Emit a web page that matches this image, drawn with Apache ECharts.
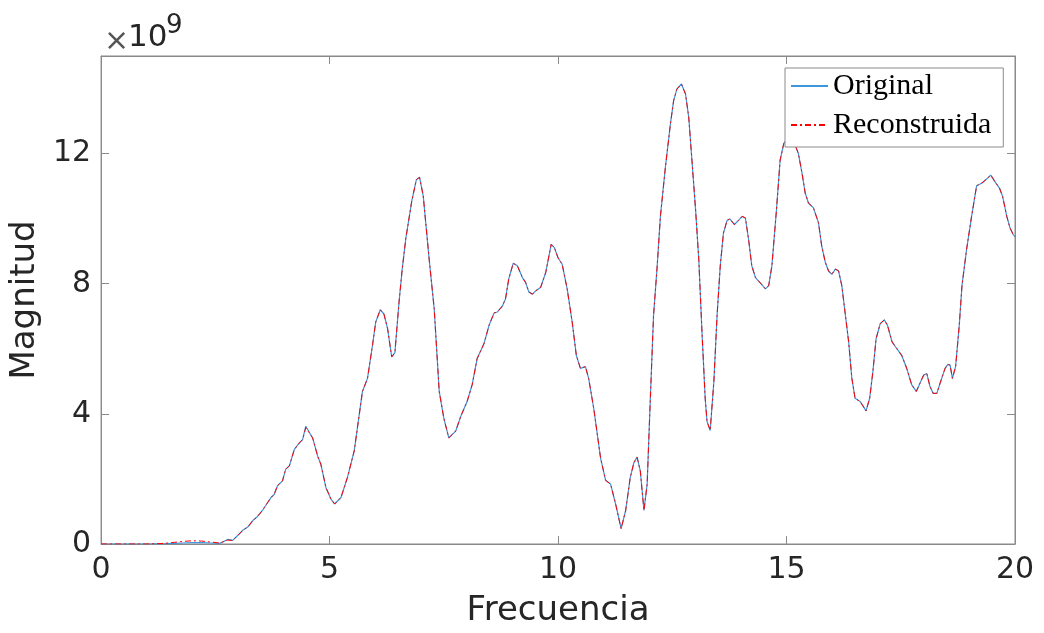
<!DOCTYPE html>
<html>
<head>
<meta charset="utf-8">
<script src="https://cdn.jsdelivr.net/npm/echarts@6/dist/echarts.min.js"></script>
<style>
html,body{margin:0;padding:0;background:#fff;}
#chart{width:1044px;height:633px;}
</style>
</head>
<body>
<div id="chart"></div>
<script>
// Frequency samples (x axis)
const freq = [
  0, 0.5, 1.0, 1.4, 1.6, 1.8, 2.0, 2.2, 2.4, 2.6,
  2.77, 2.88, 2.99, 3.10, 3.21, 3.32, 3.42, 3.53, 3.61, 3.72,
  3.79, 3.86, 3.97, 4.04, 4.12, 4.23, 4.34, 4.41, 4.48, 4.63,
  4.74, 4.81, 4.92, 5.03, 5.11, 5.25, 5.39, 5.54, 5.72, 5.83,
  5.94, 6.01, 6.11, 6.19, 6.27, 6.36, 6.43, 6.52, 6.59, 6.67,
  6.80, 6.90, 6.97, 7.05, 7.18, 7.29, 7.40, 7.50, 7.61, 7.76,
  7.87, 8.01, 8.12, 8.23, 8.38, 8.49, 8.60, 8.67, 8.78, 8.85,
  8.92, 9.02, 9.11, 9.22, 9.29, 9.36, 9.44, 9.51, 9.62, 9.73,
  9.85, 9.92, 10.00, 10.09, 10.20, 10.31, 10.40, 10.49, 10.60, 10.67,
  10.78, 10.93, 11.04, 11.15, 11.26, 11.38, 11.48, 11.58, 11.66, 11.73,
  11.80, 11.88, 11.95, 12.02, 12.09, 12.17, 12.24, 12.35, 12.46, 12.53,
  12.60, 12.70, 12.79, 12.86, 12.93, 13.01, 13.08, 13.15, 13.22, 13.26,
  13.33, 13.41, 13.48, 13.55, 13.62, 13.70, 13.76, 13.86, 13.95, 14.03,
  14.10, 14.17, 14.24, 14.32, 14.43, 14.54, 14.61, 14.68, 14.78, 14.86,
  14.94, 15.05, 15.15, 15.26, 15.34, 15.41, 15.48, 15.59, 15.70, 15.77,
  15.85, 15.92, 15.99, 16.07, 16.14, 16.21, 16.28, 16.36, 16.43, 16.50,
  16.61, 16.68, 16.74, 16.82, 16.89, 16.96, 17.05, 17.14, 17.21, 17.31,
  17.41, 17.52, 17.63, 17.74, 17.84, 17.92, 18.00, 18.07, 18.14, 18.21,
  18.29, 18.36, 18.47, 18.53, 18.58, 18.63, 18.70, 18.78, 18.84, 18.94,
  19.05, 19.16, 19.27, 19.38, 19.47, 19.56, 19.66, 19.73, 19.82, 19.89,
  19.96, 20.00
];
// Magnitude of the original signal (units of 1e9)
const original = [
  0, 0, 0, 0.01, 0.02, 0.03, 0.04, 0.04, 0.03, 0.02,
  0.14, 0.11, 0.26, 0.42, 0.52, 0.72, 0.84, 1.03, 1.20, 1.43,
  1.53, 1.79, 1.94, 2.30, 2.40, 2.91, 3.11, 3.21, 3.62, 3.26,
  2.70, 2.45, 1.74, 1.38, 1.23, 1.43, 2.04, 2.86, 4.69, 5.09,
  6.11, 6.82, 7.20, 7.07, 6.62, 5.75, 5.88, 7.43, 8.45, 9.40,
  10.55, 11.20, 11.27, 10.70, 8.75, 7.23, 4.69, 3.87, 3.26, 3.47,
  3.92, 4.38, 4.89, 5.70, 6.16, 6.72, 7.10, 7.13, 7.31, 7.53,
  8.14, 8.63, 8.55, 8.19, 8.04, 7.75, 7.68, 7.78, 7.89, 8.34,
  9.21, 9.11, 8.80, 8.60, 7.84, 6.82, 5.80, 5.40, 5.45, 5.09,
  4.18, 2.65, 1.96, 1.84, 1.23, 0.47, 1.03, 2.04, 2.50, 2.67,
  2.25, 1.03, 1.84, 4.48, 7.02, 8.55, 10.07, 11.59, 12.92, 13.63,
  13.98, 14.14, 13.83, 13.12, 11.80, 10.27, 8.75, 6.52, 4.48, 3.77,
  3.49, 4.99, 7.02, 8.55, 9.56, 9.95, 9.99, 9.82, 9.95, 10.07,
  10.02, 9.36, 8.55, 8.19, 8.02, 7.84, 7.94, 8.55, 10.27, 11.80,
  12.31, 12.55, 12.41, 12.00, 11.39, 10.78, 10.48, 10.33, 9.87, 9.16,
  8.65, 8.39, 8.29, 8.45, 8.39, 7.94, 7.13, 6.21, 5.09, 4.48,
  4.38, 4.23, 4.09, 4.48, 5.30, 6.31, 6.77, 6.89, 6.72, 6.21,
  6.01, 5.80, 5.40, 4.89, 4.69, 4.94, 5.19, 5.24, 4.84, 4.63,
  4.63, 4.94, 5.40, 5.52, 5.50, 5.09, 5.45, 6.72, 7.94, 9.05,
  10.07, 11.01, 11.09, 11.22, 11.34, 11.14, 10.94, 10.68, 10.07, 9.72,
  9.51, 9.45
];
// Magnitude of the reconstructed signal (units of 1e9)
const reconstruida = [
  0, 0, 0, 0.02, 0.05, 0.08, 0.10, 0.09, 0.06, 0.03,
  0.12, 0.11, 0.26, 0.42, 0.52, 0.72, 0.84, 1.03, 1.20, 1.43,
  1.53, 1.79, 1.94, 2.30, 2.40, 2.91, 3.11, 3.21, 3.58, 3.26,
  2.70, 2.45, 1.74, 1.38, 1.23, 1.43, 2.04, 2.86, 4.69, 5.09,
  6.11, 6.82, 7.20, 7.07, 6.62, 5.75, 5.88, 7.43, 8.45, 9.40,
  10.55, 11.20, 11.27, 10.70, 8.75, 7.23, 4.69, 3.87, 3.26, 3.47,
  3.92, 4.38, 4.89, 5.70, 6.16, 6.72, 7.10, 7.13, 7.31, 7.53,
  8.14, 8.63, 8.55, 8.19, 8.04, 7.75, 7.68, 7.78, 7.89, 8.34,
  9.21, 9.11, 8.80, 8.60, 7.84, 6.82, 5.80, 5.40, 5.45, 5.09,
  4.18, 2.65, 1.96, 1.84, 1.23, 0.47, 1.03, 2.04, 2.50, 2.67,
  2.25, 1.03, 1.84, 4.48, 7.02, 8.55, 10.07, 11.59, 12.92, 13.63,
  13.98, 14.14, 13.83, 13.12, 11.80, 10.27, 8.75, 6.52, 4.48, 3.77,
  3.49, 4.99, 7.02, 8.55, 9.56, 9.95, 9.99, 9.82, 9.95, 10.07,
  10.02, 9.36, 8.55, 8.19, 8.02, 7.84, 7.94, 8.55, 10.27, 11.80,
  12.31, 12.55, 12.41, 12.00, 11.39, 10.78, 10.48, 10.33, 9.87, 9.16,
  8.65, 8.39, 8.29, 8.45, 8.39, 7.94, 7.13, 6.21, 5.09, 4.48,
  4.38, 4.23, 4.09, 4.48, 5.30, 6.31, 6.77, 6.89, 6.72, 6.21,
  6.01, 5.80, 5.40, 4.89, 4.69, 4.94, 5.19, 5.24, 4.84, 4.63,
  4.63, 4.94, 5.40, 5.52, 5.50, 5.09, 5.45, 6.72, 7.94, 9.05,
  10.07, 11.01, 11.09, 11.22, 11.34, 11.14, 10.94, 10.68, 10.07, 9.72,
  9.51, 9.45
];
const seriesNames = ['Original', 'Reconstruida'];
const xTitle = 'Frecuencia';
const yTitle = 'Magnitud';
const xTicks = [0, 5, 10, 15, 20];
const yTicks = [0, 4, 8, 12];

const pairs = (ys) => freq.map((x, i) => [x, ys[i]]);
const axisColor = '#8a8a8a';
const textColor = '#262626';
const sans = 'DejaVu Sans';
const blue = '#3d95dc';

const chart = echarts.init(document.getElementById('chart'), null, {renderer: 'canvas'});
chart.setOption({
  animation: false,
  backgroundColor: '#fff',
  grid: {left: 100, right: 29, top: 56, bottom: 85, containLabel: false,
    show: true, borderColor: axisColor, borderWidth: 1, backgroundColor: 'transparent'},
  legend: {
    data: seriesNames,
    orient: 'vertical',
    left: 785, top: 68,
    padding: [3, 12, 7, 5],
    itemWidth: 37, itemHeight: 28, itemGap: 9,
    backgroundColor: '#fff',
    borderColor: '#8a8a8a', borderWidth: 1,
    itemStyle: {opacity: 0},
    textStyle: {fontFamily: 'Liberation Serif', fontSize: 30, color: '#000'}
  },
  xAxis: [{
    type: 'value', min: 0, max: 20, interval: 5,
    name: xTitle, nameLocation: 'middle', nameGap: 50,
    nameTextStyle: {fontFamily: sans, fontSize: 34, color: textColor},
    axisLine: {show: true, onZero: false, lineStyle: {color: axisColor, width: 1}},
    axisTick: {show: true, inside: true, length: 8, lineStyle: {color: axisColor}},
    axisLabel: {fontFamily: sans, fontSize: 30, color: textColor, margin: 11,
      formatter: (v) => xTicks.includes(v) ? String(v) : ''},
    splitLine: {show: false}
  }, {
    type: 'value', position: 'top', min: 0, max: 20, interval: 5,
    axisLine: {show: true, onZero: false, lineStyle: {color: axisColor, width: 1}},
    axisTick: {show: true, inside: true, length: 8, lineStyle: {color: axisColor}},
    axisLabel: {show: false}, splitLine: {show: false}
  }],
  yAxis: [{
    type: 'value', min: 0, max: 15, interval: 4,
    name: yTitle, nameLocation: 'middle', nameGap: 44,
    nameTextStyle: {fontFamily: sans, fontSize: 34, color: textColor},
    axisLine: {show: true, onZero: false, lineStyle: {color: axisColor, width: 1}},
    axisTick: {show: true, inside: true, length: 8, lineStyle: {color: axisColor}},
    axisLabel: {fontFamily: sans, fontSize: 30, color: textColor, margin: 10, showMaxLabel: false,
      formatter: (v) => yTicks.includes(v) ? String(v) : ''},
    splitLine: {show: false}
  }, {
    type: 'value', position: 'right', min: 0, max: 15, interval: 4,
    axisLine: {show: true, onZero: false, lineStyle: {color: axisColor, width: 1}},
    axisTick: {show: true, inside: true, length: 8, lineStyle: {color: axisColor}},
    axisLabel: {show: false}, splitLine: {show: false}
  }],
  graphic: [
    {type: 'text', left: 104, top: 27, style: {text: '×', fontFamily: sans, fontSize: 30, fill: '#555'}},
    {type: 'text', left: 128, top: 22, style: {text: '10', fontFamily: sans, fontSize: 31, fill: textColor}},
    {type: 'text', left: 166, top: 13, style: {text: '9', fontFamily: sans, fontSize: 26, fill: textColor}}
  ],
  series: [{
    name: seriesNames[0], type: 'line', data: pairs(original),
    symbol: 'none', smooth: false,
    lineStyle: {color: blue, width: 1.2},
    itemStyle: {color: blue}
  }, {
    name: seriesNames[1], type: 'line', data: pairs(reconstruida),
    symbol: 'none', smooth: false,
    lineStyle: {color: '#ff0000', width: 1, type: [6, 3, 2, 3]},
    itemStyle: {color: '#ff0000'}
  }, {
    name: 'box', type: 'line', xAxisIndex: 1, yAxisIndex: 1, data: [],
    symbol: 'none', silent: true
  }]
});
</script>
</body>
</html>
